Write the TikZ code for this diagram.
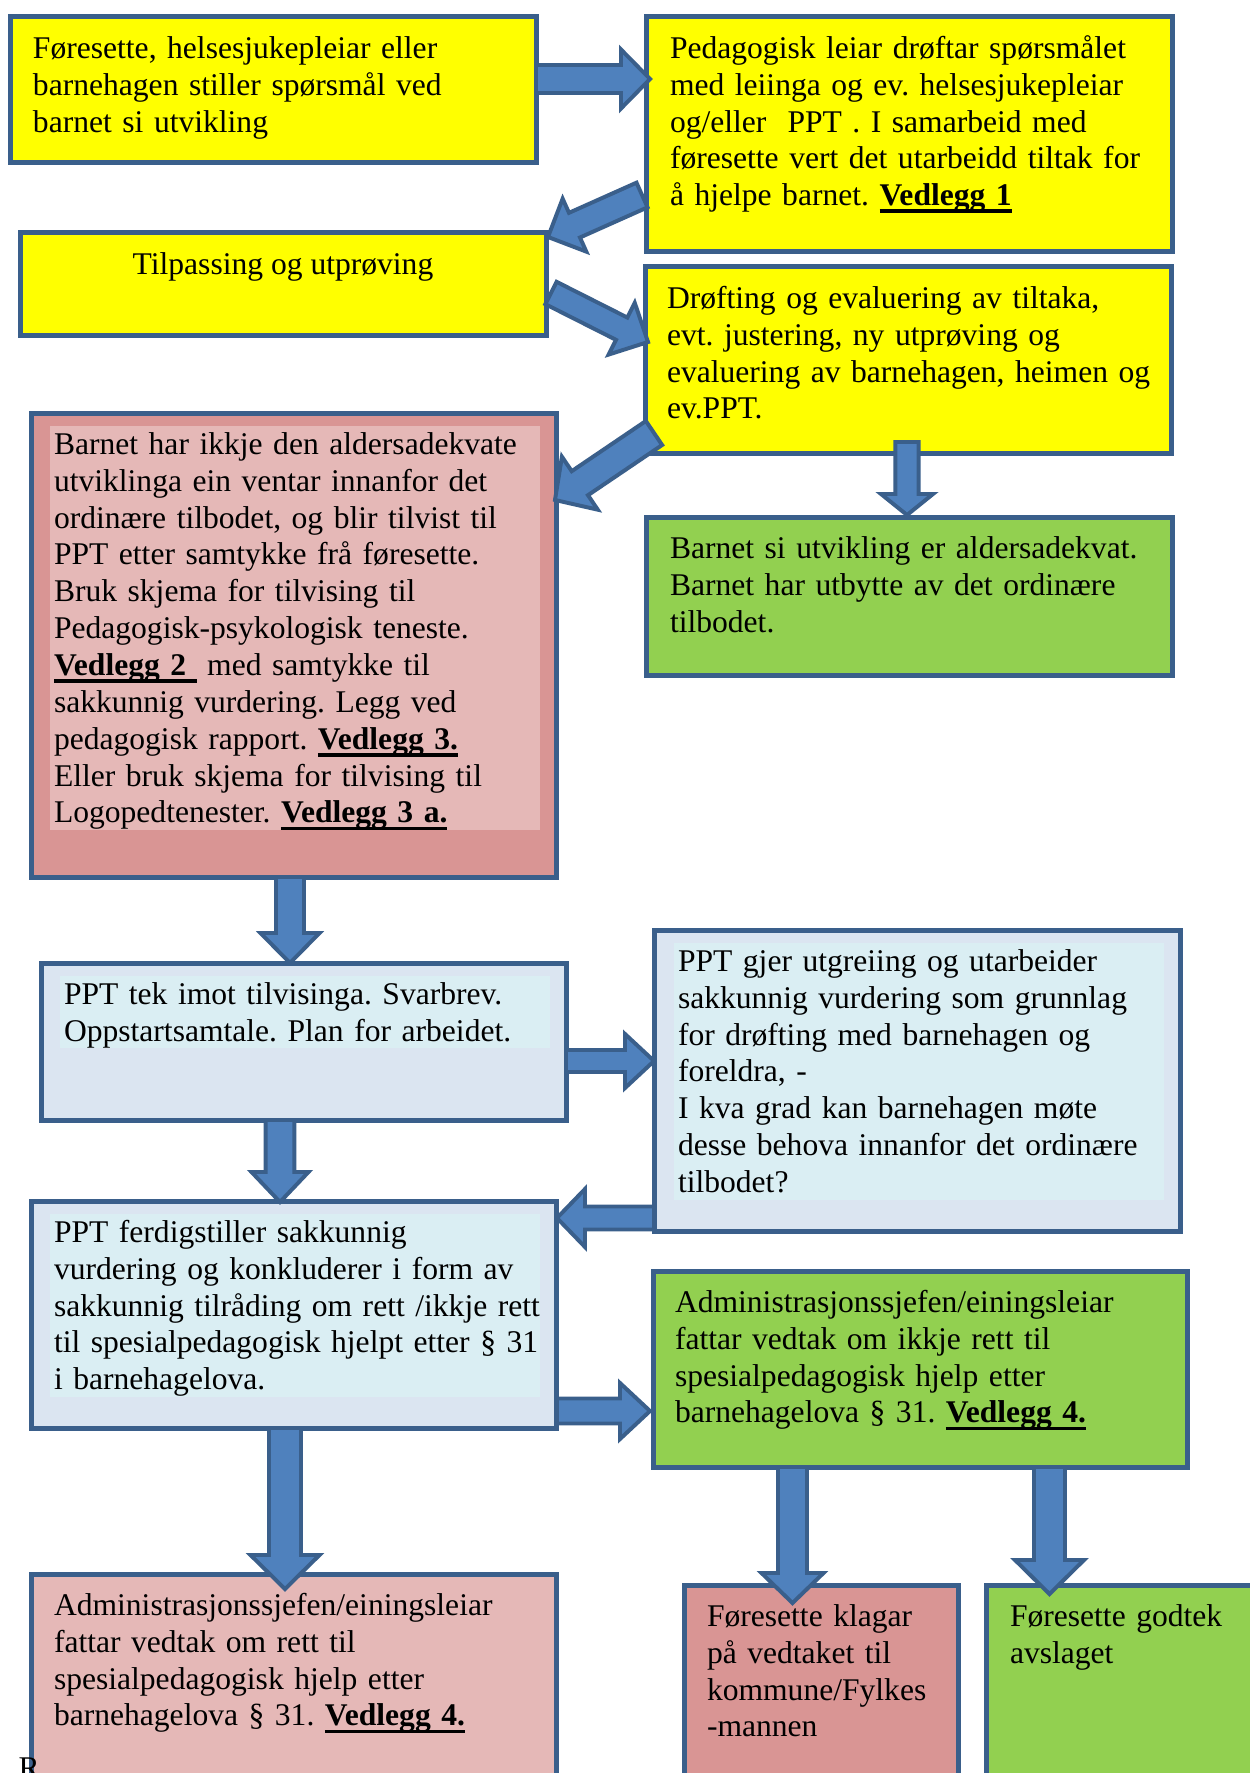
\documentclass[tikz,border=0pt]{standalone}
\usepackage{fontspec}
\setmainfont{Liberation Serif}
\usepackage{tikz}
\usetikzlibrary{calc}

\newcommand{\px}{0.38pt}
\newcommand{\boxfont}{\fontsize{12}{14}\selectfont\frenchspacing\lineskiplimit=-20pt\relax}
\newcommand{\lnstrut}{\rule[-2.7pt]{0pt}{13.5pt}}
\newlength{\vedlw}
\newcommand{\vedl}[1]{\leavevmode\settowidth{\vedlw}{\textbf{#1}}\rlap{\rule[-2.8pt]{\vedlw}{1.4pt}}\textbf{#1}}
\newcommand{\blockarrow}[5]{%
	\coordinate (ba-s) at (#1);
	\coordinate (ba-t) at (#2);
	\coordinate (ba-h) at ($(ba-t)!{#5*\px}!(ba-s)$);
	\draw [blockarr] ($(ba-s)!{#3*\px}!90:(ba-t)$) -- ($(ba-h)!{#3*\px}!90:(ba-t)$) -- ($(ba-h)!{#4*\px}!90:(ba-t)$) -- (ba-t) -- ($(ba-h)!{#4*\px}!-90:(ba-t)$) -- ($(ba-h)!{#3*\px}!-90:(ba-t)$) -- ($(ba-s)!{#3*\px}!-90:(ba-t)$) -- cycle;}

\definecolor{edgeblue}{HTML}{3A5F8B}
\definecolor{arrowfill}{HTML}{4F81BD}
\definecolor{boxyellow}{HTML}{FFFF00}
\definecolor{boxgreen}{HTML}{92D050}
\definecolor{boxrose}{HTML}{D99594}
\definecolor{boxpink}{HTML}{E5B8B7}
\definecolor{boxblue}{HTML}{DBE5F1}
\definecolor{panelblue}{HTML}{DAEEF3}

\tikzset{
	flowbox/.style = {draw = edgeblue, line width = 1.9pt, anchor = north west, inner sep = 0pt, outer sep = 0pt},
	yellowbox/.style = {flowbox, fill = boxyellow},
	greenbox/.style = {flowbox, fill = boxgreen},
	rosebox/.style = {flowbox, fill = boxrose},
	pinkbox/.style = {flowbox, fill = boxpink},
	bluebox/.style = {flowbox, fill = boxblue},
	boxtext/.style = {anchor = north west, inner xsep = 1.7pt, inner ysep = 0pt, text width = 183pt, align = left, font = \boxfont, execute at begin node = {\rightskip=-30pt plus 1fil\relax\lnstrut}, execute at end node = \lnstrut},
	blockarr/.style = {draw = edgeblue, fill = arrowfill, line width = 1.5pt, line join = miter}
}

\begin{document}
\begin{tikzpicture}[x = 0.38pt, y = -0.38pt]
	\useasboundingbox (0,0) rectangle (1250,1773);
	\fill [white] (0,0) rectangle (1250,1773);
	\clip (0,0) rectangle (1250,1773);

	\node [yellowbox, minimum width = 526*\px, minimum height = 146*\px] (a) at (10,17) {};
	\node [yellowbox, minimum width = 526*\px, minimum height = 235*\px] (b) at (646,17) {};
	\node [yellowbox, minimum width = 526*\px, minimum height = 103*\px] (c) at (20,233) {};
	\node [yellowbox, minimum width = 526*\px, minimum height = 186*\px] (d) at (645,267) {};
	\node [rosebox, minimum width = 525*\px, minimum height = 464*\px] (e) at (31,413) {};
	\node [greenbox, minimum width = 526*\px, minimum height = 158*\px] (f) at (646,517) {};
	\node [bluebox, minimum width = 525*\px, minimum height = 157*\px] (g) at (41,963) {};
	\node [bluebox, minimum width = 526*\px, minimum height = 301*\px] (h) at (654,930) {};
	\node [bluebox, minimum width = 525*\px, minimum height = 227*\px] (i) at (31,1201) {};
	\node [greenbox, minimum width = 534*\px, minimum height = 196*\px] (j) at (653,1271) {};
	\node [pinkbox, minimum width = 525*\px, minimum height = 260*\px] (k) at (31,1574) {};
	\node [rosebox, minimum width = 274*\px, minimum height = 250*\px] (l) at (684,1585) {};
	\node [greenbox, minimum width = 300*\px, minimum height = 250*\px] (m) at (986,1585) {};

	\node [boxtext] (a-t) at ($(a.north west)+(18,12.5)$) {Føresette, helsesjukepleiar eller\\ barnehagen stiller spørsmål ved\\ barnet si utvikling};
	\node [boxtext] (b-t) at ($(b.north west)+(19,12.5)$) {Pedagogisk leiar drøftar spørsmålet\\ med leiinga og ev. helsesjukepleiar\\ og/eller\ \ PPT . I samarbeid med\\ føresette vert det utarbeidd tiltak for\\ å hjelpe barnet. \vedl{Vedlegg 1}};
	\node [anchor = north, inner sep = 0pt, font = \boxfont, execute at begin node = \lnstrut] (c-t) at ($(c.north)+(0,12.5)$) {Tilpassing og utprøving};
	\node [boxtext] (d-t) at ($(d.north west)+(17,12.5)$) {Drøfting og evaluering av tiltaka,\\ evt. justering, ny utprøving og\\ evaluering av barnehagen, heimen og\\ ev.PPT.};
	\node [boxtext, fill = boxpink] (e-t) at ($(e.north west)+(18,12.5)$) {Barnet har ikkje den aldersadekvate\\ utviklinga ein ventar innanfor det\\ ordinære tilbodet, og blir tilvist til\\ PPT etter samtykke frå føresette.\\ Bruk skjema for tilvising til\\ Pedagogisk-psykologisk teneste.\\ \vedl{Vedlegg 2~} med samtykke til\\ sakkunnig vurdering. Legg ved\\ pedagogisk rapport. \vedl{Vedlegg 3.}\\ Eller bruk skjema for tilvising til\\ Logopedtenester. \vedl{Vedlegg 3 a.}};
	\node [boxtext] (f-t) at ($(f.north west)+(19,12.5)$) {Barnet si utvikling er aldersadekvat.\\ Barnet har utbytte av det ordinære\\ tilbodet.};
	\node [boxtext, fill = panelblue] (g-t) at ($(g.north west)+(18,12.5)$) {PPT tek imot tilvisinga. Svarbrev.\\ Oppstartsamtale. Plan for arbeidet.};
	\node [boxtext, fill = panelblue] (h-t) at ($(h.north west)+(19,12.5)$) {PPT gjer utgreiing og utarbeider\\ sakkunnig vurdering som grunnlag\\ for drøfting med barnehagen og\\ foreldra, -\\ I kva grad kan barnehagen møte\\ desse behova innanfor det ordinære\\ tilbodet?};
	\node [boxtext, fill = panelblue] (i-t) at ($(i.north west)+(18,12.5)$) {PPT ferdigstiller sakkunnig\\ vurdering og konkluderer i form av\\ sakkunnig tilråding om rett /ikkje rett\\ til spesialpedagogisk hjelpt etter § 31\\ i barnehagelova.};
	\node [boxtext] (j-t) at ($(j.north west)+(17,12.5)$) {Administrasjonssjefen/einingsleiar\\ fattar vedtak om ikkje rett til\\ spesialpedagogisk hjelp etter\\ barnehagelova § 31. \vedl{Vedlegg 4.}};
	\node [boxtext] (k-t) at ($(k.north west)+(18,12.5)$) {Administrasjonssjefen/einingsleiar\\ fattar vedtak om rett til\\ spesialpedagogisk hjelp etter\\ barnehagelova § 31. \vedl{Vedlegg 4.}};
	\node [boxtext] (l-t) at ($(l.north west)+(18,12.5)$) {Føresette klagar\\ på vedtaket til\\ kommune/Fylkes\\ -mannen};
	\node [boxtext] (m-t) at ($(m.north west)+(19,12.5)$) {Føresette godtek\\ avslaget};
	\node [font = \boxfont, anchor = base west, inner sep = 0pt] (r) at (18,1778) {R};

	\blockarrow{$(a.east)+(0,-11)$}{$(b.west)+(4,-55.5)$}{14}{29.5}{29}
	\blockarrow{$(b.south west)+(-4,-57)$}{$(c.north east)+(2,4)$}{13.5}{29}{29}
	\blockarrow{$(c.east)+(5,8.5)$}{$(d.west)+(3,-18)$}{12.5}{29}{29.5}
	\blockarrow{$(d.south west)+(9,-20)$}{$(e.north east)+(-1,87)$}{14.5}{32}{30}
	\blockarrow{$(d.south)+(-1,-11)$}{$(f.north)+(-2,-2)$}{11.7}{26}{21}
	\blockarrow{$(e.south)+(-3.5,0)$}{$(g.north)+(-13.5,0)$}{14}{29.5}{30}
	\blockarrow{$(g.east)+(0,19.5)$}{$(h.west)+(0,-19.5)$}{11}{27}{29}
	\blockarrow{$(g.south)+(-23.5,0)$}{$(i.north)+(-13.5,1)$}{14.3}{28.5}{30}
	\blockarrow{$(h.south west)+(0,-13)$}{$(i.east)+(1,-96.5)$}{11.5}{29}{28}
	\blockarrow{$(i.south east)+(1,-17)$}{$(j.west)+(-3,42)$}{12.5}{28}{30}
	\blockarrow{$(i.south)+(-8.5,0)$}{$(k.north)+(-8.5,15)$}{16}{34.5}{34}
	\blockarrow{$(j.south west)+(139.5,0)$}{$(l.north)+(-28.5,18)$}{14.5}{31}{30}
	\blockarrow{$(j.south east)+(-137.5,0)$}{$(m.north)+(-86.5,9)$}{15.5}{34.5}{34}
\end{tikzpicture}
\end{document}
